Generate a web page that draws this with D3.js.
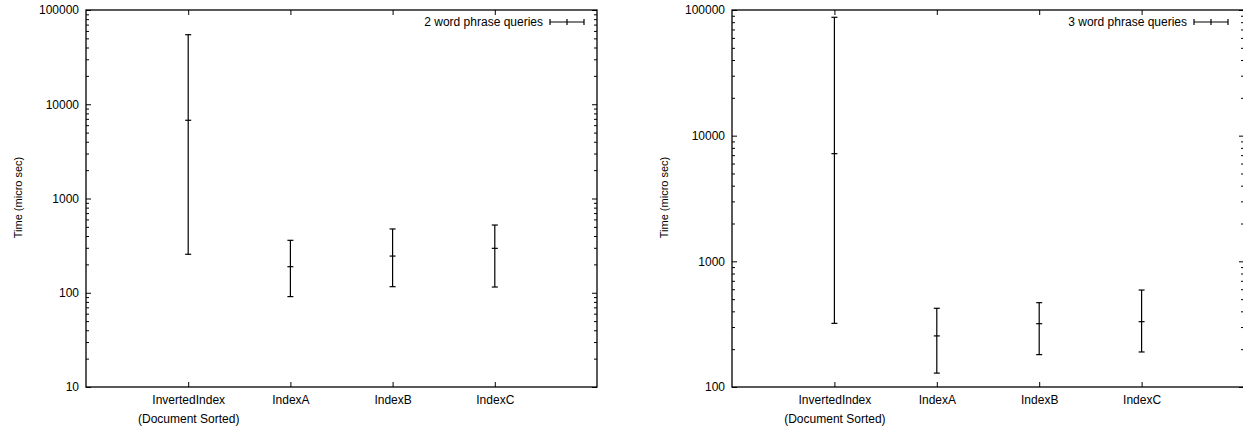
<!DOCTYPE html>
<html>
<head>
<meta charset="utf-8">
<script src="https://cdn.jsdelivr.net/npm/d3@7"></script>
<style>
  body { margin: 0; background: #fff; }
  svg text { font-family: "Liberation Sans", Arial, sans-serif; font-size: 12px; fill: #000; }
</style>
</head>
<body>
<svg id="chart" width="1243" height="429"></svg>
<script>
// categories along the x axis
const categories = ["InvertedIndex", "IndexA", "IndexB", "IndexC"];
const subLabels = ["(Document Sorted)", "", "", ""];

// 2 word phrase queries (micro sec)
const twoWordMid  = [6760, 189, 245, 296];
const twoWordLow  = [256, 91, 116, 115];
const twoWordHigh = [54700, 360, 475, 523];

// 3 word phrase queries (micro sec)
const threeWordMid  = [7190, 255, 319, 331];
const threeWordLow  = [321, 129, 181, 190];
const threeWordHigh = [87500, 423, 469, 591];

const svg = d3.select("#chart");

function drawPanel(opts) {
    const { left, top, width, height, yDomain, mid, low, high, title } = opts;

    const g = svg.append("g")
        .attr("transform", `translate(${left},${top})`);

    const x = d3.scaleLinear().domain([-1, 4]).range([0, width]);
    const y = d3.scaleLog().domain(yDomain).range([height, 0]);

    // major / minor log ticks
    const majors = [], minors = [];
    for (let p = Math.log10(yDomain[0]); p <= Math.log10(yDomain[1]); p++) {
        majors.push(Math.pow(10, p));
        if (Math.pow(10, p) < yDomain[1]) {
            for (let k = 2; k <= 9; k++) minors.push(k * Math.pow(10, p));
        }
    }

    // left axis with labels
    g.append("g")
        .call(d3.axisLeft(y).tickValues(majors).tickSize(-5).tickPadding(7).tickFormat(d3.format("d")))
        .call(a => a.select(".domain").remove());
    g.append("g")
        .call(d3.axisLeft(y).tickValues(minors).tickSize(-3).tickFormat(""))
        .call(a => a.select(".domain").remove());

    // mirrored right ticks
    g.append("g")
        .attr("transform", `translate(${width},0)`)
        .call(d3.axisRight(y).tickValues(majors).tickSize(-5).tickFormat(""))
        .call(a => a.select(".domain").remove());
    g.append("g")
        .attr("transform", `translate(${width},0)`)
        .call(d3.axisRight(y).tickValues(minors).tickSize(-3).tickFormat(""))
        .call(a => a.select(".domain").remove());

    // bottom axis
    const xb = g.append("g")
        .attr("transform", `translate(0,${height})`)
        .call(d3.axisBottom(x).tickValues([0, 1, 2, 3]).tickSize(-5).tickFormat(""))
        .call(a => a.select(".domain").remove());
    xb.selectAll(".tick").append("text")
        .attr("y", 17)
        .attr("text-anchor", "middle")
        .text(d => categories[d]);
    xb.selectAll(".tick").append("text")
        .attr("y", 36)
        .attr("text-anchor", "middle")
        .text(d => subLabels[d]);

    // mirrored top ticks
    g.append("g")
        .call(d3.axisTop(x).tickValues([0, 1, 2, 3]).tickSize(-5).tickFormat(""))
        .call(a => a.select(".domain").remove());

    g.selectAll(".tick line").attr("stroke", "#000");
    g.selectAll(".tick text").attr("fill", "#000").style("font-size", "12px");

    // border
    g.append("rect")
        .attr("width", width)
        .attr("height", height)
        .attr("fill", "none")
        .attr("stroke", "#000")
        .attr("stroke-width", 1.3);

    // y axis title
    g.append("text")
        .attr("transform", "rotate(-90)")
        .attr("x", -height / 2 + 1)
        .attr("y", -64)
        .attr("text-anchor", "middle")
        .style("font-size", "11px")
        .text("Time (micro sec)");

    // error bars
    const cap = 3;
    const bars = g.selectAll(".bar")
        .data(categories.map((c, i) => ({ i, mid: mid[i], low: low[i], high: high[i] })))
        .enter().append("g")
        .attr("class", "bar")
        .attr("stroke", "#000")
        .attr("stroke-width", 1.2);
    bars.append("line")
        .attr("x1", d => x(d.i)).attr("x2", d => x(d.i))
        .attr("y1", d => y(d.low)).attr("y2", d => y(d.high));
    bars.append("line")
        .attr("x1", d => x(d.i) - cap).attr("x2", d => x(d.i) + cap)
        .attr("y1", d => y(d.low)).attr("y2", d => y(d.low));
    bars.append("line")
        .attr("x1", d => x(d.i) - cap).attr("x2", d => x(d.i) + cap)
        .attr("y1", d => y(d.high)).attr("y2", d => y(d.high));
    bars.append("line")
        .attr("x1", d => x(d.i) - cap).attr("x2", d => x(d.i) + cap)
        .attr("y1", d => y(d.mid)).attr("y2", d => y(d.mid));

    // legend
    const lx = opts.legendX, ly = 12;
    g.append("text")
        .attr("x", lx)
        .attr("y", ly + 4)
        .attr("text-anchor", "end")
        .text(title);
    const lg = g.append("g").attr("stroke", "#000").attr("stroke-width", 1.2);
    const s0 = lx + 7, s1 = lx + 41, sm = (s0 + s1) / 2;
    lg.append("line").attr("x1", s0).attr("x2", s1).attr("y1", ly).attr("y2", ly);
    [s0, sm, s1].forEach(px => {
        lg.append("line").attr("x1", px).attr("x2", px).attr("y1", ly - cap).attr("y2", ly + cap);
    });
}

drawPanel({
    left: 86, top: 10, width: 511, height: 377,
    yDomain: [10, 100000],
    mid: twoWordMid, low: twoWordLow, high: twoWordHigh,
    title: "2 word phrase queries", legendX: 457
});

drawPanel({
    left: 732, top: 10, width: 512, height: 377,
    yDomain: [100, 100000],
    mid: threeWordMid, low: threeWordLow, high: threeWordHigh,
    title: "3 word phrase queries", legendX: 455
});
</script>
</body>
</html>
